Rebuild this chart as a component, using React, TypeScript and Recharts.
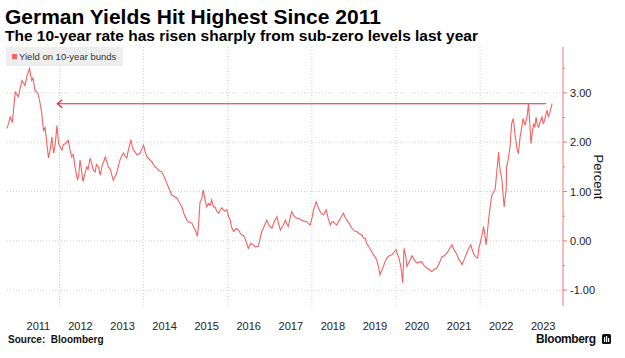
import { LineChart, Line, XAxis, YAxis, ReferenceLine } from "recharts";

// 10-year Bund yield (decimal year, percent)
const dates = [
  2010.75, 2010.78, 2010.83, 2010.88, 2010.95, 2011.02, 2011.11, 2011.18, 2011.23, 2011.29,
  2011.34, 2011.37, 2011.42, 2011.49, 2011.54, 2011.58, 2011.62, 2011.66, 2011.70, 2011.74,
  2011.78, 2011.82, 2011.86, 2011.90, 2011.94, 2011.98, 2012.02, 2012.06, 2012.09, 2012.14,
  2012.21, 2012.25, 2012.29, 2012.33, 2012.37, 2012.43, 2012.46, 2012.49, 2012.53, 2012.56,
  2012.60, 2012.65, 2012.68, 2012.73, 2012.77, 2012.81, 2012.85, 2012.88, 2012.93, 2012.97,
  2013.02, 2013.05, 2013.09, 2013.12, 2013.16, 2013.21, 2013.24, 2013.28, 2013.32, 2013.36,
  2013.41, 2013.44, 2013.48, 2013.52, 2013.56, 2013.60, 2013.64, 2013.70, 2013.73, 2013.76,
  2013.80, 2013.84, 2013.88, 2013.92, 2013.95, 2014.00, 2014.04, 2014.08, 2014.13, 2014.20,
  2014.25, 2014.32, 2014.37, 2014.43, 2014.49, 2014.55, 2014.61, 2014.67, 2014.73, 2014.79,
  2014.85, 2014.91, 2014.96, 2015.03, 2015.08, 2015.15, 2015.19, 2015.23, 2015.28, 2015.31,
  2015.34, 2015.38, 2015.42, 2015.46, 2015.50, 2015.54, 2015.58, 2015.62, 2015.66, 2015.70,
  2015.74, 2015.78, 2015.82, 2015.86, 2015.92, 2015.98, 2016.02, 2016.06, 2016.09, 2016.14,
  2016.20, 2016.26, 2016.30, 2016.34, 2016.38, 2016.41, 2016.45, 2016.49, 2016.55, 2016.61,
  2016.66, 2016.73, 2016.77, 2016.81, 2016.87, 2016.93, 2016.99, 2017.05, 2017.10, 2017.17,
  2017.21, 2017.25, 2017.31, 2017.37, 2017.40, 2017.44, 2017.48, 2017.52, 2017.58, 2017.64,
  2017.70, 2017.76, 2017.82, 2017.88, 2017.92, 2017.96, 2018.00, 2018.04, 2018.10, 2018.15,
  2018.20, 2018.23, 2018.28, 2018.34, 2018.39, 2018.44, 2018.47, 2018.51, 2018.55, 2018.59,
  2018.67, 2018.75, 2018.79, 2018.83, 2018.89, 2018.95, 2019.01, 2019.07, 2019.12, 2019.19,
  2019.23, 2019.27, 2019.30, 2019.35, 2019.41, 2019.46, 2019.50, 2019.54, 2019.59, 2019.62,
  2019.66, 2019.70, 2019.74, 2019.78, 2019.84, 2019.90, 2019.96, 2020.00, 2020.04, 2020.08,
  2020.12, 2020.16, 2020.19, 2020.23, 2020.26, 2020.30, 2020.34, 2020.38, 2020.43, 2020.50,
  2020.55, 2020.61, 2020.67, 2020.73, 2020.79, 2020.85, 2020.91, 2020.97, 2021.03, 2021.09,
  2021.15, 2021.21, 2021.26, 2021.33, 2021.38, 2021.45, 2021.50, 2021.57, 2021.62, 2021.68,
  2021.73, 2021.78, 2021.81, 2021.86, 2021.89, 2021.94, 2021.97, 2022.00, 2022.04, 2022.08,
  2022.11, 2022.14, 2022.17, 2022.20, 2022.24, 2022.28, 2022.32, 2022.36, 2022.39, 2022.44,
  2022.46, 2022.48, 2022.50, 2022.52, 2022.54, 2022.55, 2022.57, 2022.59, 2022.62, 2022.63,
  2022.67, 2022.71, 2022.73, 2022.75, 2022.79, 2022.81, 2022.83, 2022.86, 2022.88, 2022.91,
  2022.95, 2022.99, 2023.02, 2023.07, 2023.12, 2023.15, 2023.18, 2023.21, 2023.24, 2023.27,
  2023.30, 2023.33, 2023.36, 2023.39, 2023.43, 2023.47, 2023.50, 2023.52, 2023.56, 2023.59,
  2023.62, 2023.65, 2023.68, 2023.71,
];

const yields = [
  2.28, 2.35, 2.51, 2.40, 3.02, 2.92, 3.25, 3.15, 3.35, 3.49,
  3.25, 3.30, 3.05, 2.99, 2.79, 2.59, 2.24, 2.30, 1.98, 1.68,
  1.85, 2.11, 1.78, 1.95, 2.34, 1.98, 1.90, 1.84, 1.95, 1.97,
  2.04, 1.85, 1.70, 1.75, 1.50, 1.23, 1.35, 1.64, 1.40, 1.20,
  1.35, 1.50, 1.45, 1.68, 1.55, 1.43, 1.40, 1.55, 1.50, 1.33,
  1.55, 1.60, 1.70, 1.62, 1.50, 1.45, 1.35, 1.23, 1.30, 1.37,
  1.55, 1.64, 1.72, 1.78, 1.72, 1.68, 1.85, 2.05, 1.92, 1.84,
  1.80, 1.74, 1.76, 1.78, 1.85, 1.94, 1.80, 1.70, 1.66, 1.60,
  1.52, 1.47, 1.42, 1.40, 1.30, 1.17, 1.05, 0.93, 0.90, 0.87,
  0.78, 0.69, 0.55, 0.42, 0.38, 0.36, 0.28, 0.22, 0.09, 0.35,
  0.77, 0.85, 1.03, 0.83, 0.69, 0.76, 0.72, 0.83, 0.69, 0.69,
  0.60, 0.56, 0.62, 0.67, 0.60, 0.63, 0.50, 0.42, 0.28, 0.19,
  0.25, 0.22, 0.15, 0.12, 0.10, 0.05, -0.05, -0.15, -0.05, -0.08,
  -0.12, -0.11, 0.05, 0.19, 0.30, 0.42, 0.30, 0.26, 0.38, 0.49,
  0.35, 0.22, 0.30, 0.42, 0.35, 0.29, 0.45, 0.59, 0.50, 0.46,
  0.45, 0.42, 0.40, 0.39, 0.35, 0.32, 0.45, 0.63, 0.79, 0.68,
  0.59, 0.55, 0.53, 0.63, 0.45, 0.32, 0.38, 0.39, 0.35, 0.32,
  0.45, 0.56, 0.48, 0.42, 0.35, 0.26, 0.20, 0.19, 0.15, 0.12,
  0.06, 0.05, -0.05, -0.11, -0.20, -0.28, -0.32, -0.38, -0.55, -0.69,
  -0.60, -0.52, -0.42, -0.35, -0.30, -0.28, -0.22, -0.18, -0.28, -0.38,
  -0.55, -0.85, -0.15, -0.30, -0.52, -0.45, -0.38, -0.30, -0.38, -0.45,
  -0.43, -0.42, -0.50, -0.55, -0.58, -0.62, -0.58, -0.55, -0.45, -0.32,
  -0.30, -0.25, -0.18, -0.08, -0.18, -0.28, -0.38, -0.48, -0.38, -0.25,
  -0.15, -0.08, -0.18, -0.28, -0.32, -0.35, -0.15, -0.05, 0.10, 0.29,
  0.15, -0.08, 0.15, 0.42, 0.70, 0.93, 0.98, 1.06, 1.35, 1.80,
  1.55, 1.40, 1.33, 1.23, 1.00, 0.89, 0.69, 0.85, 1.03, 1.50,
  1.67, 1.90, 2.15, 2.38, 2.48, 2.31, 2.15, 1.97, 1.85, 1.77,
  2.11, 2.30, 2.48, 2.34, 2.55, 2.78, 2.40, 1.97, 2.20, 2.38,
  2.30, 2.51, 2.35, 2.31, 2.42, 2.51, 2.38, 2.41, 2.55, 2.65,
  2.52, 2.58, 2.68, 2.78,
];

const yearTicks = [2011.5, 2012.5, 2013.5, 2014.5, 2015.5, 2016.5, 2017.5, 2018.5, 2019.5, 2020.5, 2021.5, 2022.5, 2023.5];
const yearGrid = [2012, 2014, 2016, 2018, 2020, 2022];
const valueTicks = [-1, -0.5, 0, 0.5, 1, 1.5, 2, 2.5, 3, 3.5];
const valueGrid = [-1, 0, 1, 2, 3];

// arrow pointing back to the 2011 level
const arrowFrom = 2011.95;
const arrowTo = 2023.57;
const arrowLevel = 2.78;

const LINE_RED = "#f46262";
const AXIS_RED = "#f27777";
const ARROW_RED = "#d92a45";
const FONT = '"Liberation Sans", Arial, sans-serif';

const data = dates.map((t, i) => ({ t, v: yields[i] }));

function YearTick({ x, y, payload }: any) {
  return (
    <text x={x} y={y} dy={4} textAnchor="middle" fontSize={11} fill="#222" fontFamily={FONT}>
      {Math.floor(payload.value)}
    </text>
  );
}

function ValueTick({ x, y, payload }: any) {
  const v = payload.value;
  const major = Number.isInteger(v);
  const axisX = x - 7;
  return (
    <g>
      <line x1={axisX} x2={axisX + (major ? 4 : 2)} y1={y} y2={y} stroke={AXIS_RED} />
      {major && (
        <text x={x} y={y} dy={4} textAnchor="start" fontSize={11} fill="#222" fontFamily={FONT}>
          {v.toFixed(2)}
        </text>
      )}
    </g>
  );
}

function Arrow(props: any) {
  const { x1, y1, x2 } = props;
  return (
    <g>
      <line x1={x1} y1={y1} x2={x2} y2={y1} stroke={ARROW_RED} strokeWidth={1.2} />
      <path d={`M${x1 + 5},${y1 - 4} L${x1},${y1} L${x1 + 5},${y1 + 4}`} fill="none" stroke={ARROW_RED} strokeWidth={1.2} />
    </g>
  );
}

export default function App() {
  return (
    <div style={{ position: "absolute", left: 0, top: 0, width: 625, height: 358, background: "#fff", fontFamily: FONT }}>
      <div style={{ position: "absolute", left: 5, top: 5, fontSize: 21, fontWeight: 700, color: "#000", whiteSpace: "nowrap" }}>
        German Yields Hit Highest Since 2011
      </div>
      <div style={{ position: "absolute", left: 5, top: 27, fontSize: 15.5, fontWeight: 700, color: "#000", whiteSpace: "nowrap" }}>
        The 10-year rate has risen sharply from sub-zero levels last year
      </div>

      <LineChart width={625} height={358} data={data} margin={{ top: 47, right: 0, bottom: 0, left: 6 }}>
        {valueGrid.map((v) => (
          <ReferenceLine key={`h${v}`} y={v} stroke="#cfcfcf" strokeDasharray="1 2" />
        ))}
        {yearGrid.map((t) => (
          <ReferenceLine key={`v${t}`} x={t} stroke="#cfcfcf" strokeDasharray="1 2" />
        ))}
        <XAxis
          dataKey="t"
          type="number"
          domain={[2010.73, 2023.97]}
          ticks={yearTicks}
          tick={<YearTick />}
          tickSize={0}
          tickMargin={20}
          axisLine={false}
          tickLine={false}
          height={52}
          interval={0}
          allowDataOverflow
        />
        <YAxis
          orientation="right"
          domain={[-1.32, 3.93]}
          ticks={valueTicks}
          tick={<ValueTick />}
          tickSize={0}
          tickMargin={7}
          tickLine={false}
          axisLine={{ stroke: AXIS_RED }}
          width={62}
          allowDataOverflow
          interval={0}
        />
        <ReferenceLine
          segment={[{ x: arrowFrom, y: arrowLevel }, { x: arrowTo, y: arrowLevel }]}
          shape={<Arrow />}
        />
        <Line
          type="linear"
          dataKey="v"
          stroke={LINE_RED}
          strokeWidth={1.1}
          dot={false}
          isAnimationActive={false}
        />
      </LineChart>

      <div style={{ position: "absolute", left: 6, top: 47, width: 117, height: 19, background: "#eeeeee" }}>
        <div style={{ position: "absolute", left: 6, top: 7, width: 5, height: 5, background: LINE_RED }} />
        <div style={{ position: "absolute", left: 13, top: 4, fontSize: 9.5, color: "#333", whiteSpace: "nowrap" }}>
          Yield on 10-year bunds
        </div>
      </div>

      <div style={{ position: "absolute", left: 598, top: 177, width: 0, height: 0 }}>
        <div style={{ position: "absolute", left: 0, top: 0, transform: "rotate(90deg) translate(-50%, -50%)", transformOrigin: "0 0", fontSize: 13, color: "#111", whiteSpace: "nowrap" }}>
          Percent
        </div>
      </div>

      <div style={{ position: "absolute", left: 8, top: 334, fontSize: 10, fontWeight: 700, color: "#111", whiteSpace: "nowrap" }}>
        Source:&nbsp; Bloomberg
      </div>
      <div style={{ position: "absolute", left: 536, top: 332, fontSize: 12, fontWeight: 700, color: "#111", letterSpacing: -0.4, whiteSpace: "nowrap" }}>
        Bloomberg
      </div>
      <svg style={{ position: "absolute", left: 602, top: 334 }} width={9} height={10}>
        <rect x={0} y={0} width={9} height={10} rx={1.5} fill="#111" />
        <rect x={2} y={3} width={1.2} height={5} fill="#fff" />
        <rect x={4} y={2} width={1.2} height={6} fill="#fff" />
        <rect x={6} y={4} width={1.2} height={4} fill="#fff" />
      </svg>
    </div>
  );
}
